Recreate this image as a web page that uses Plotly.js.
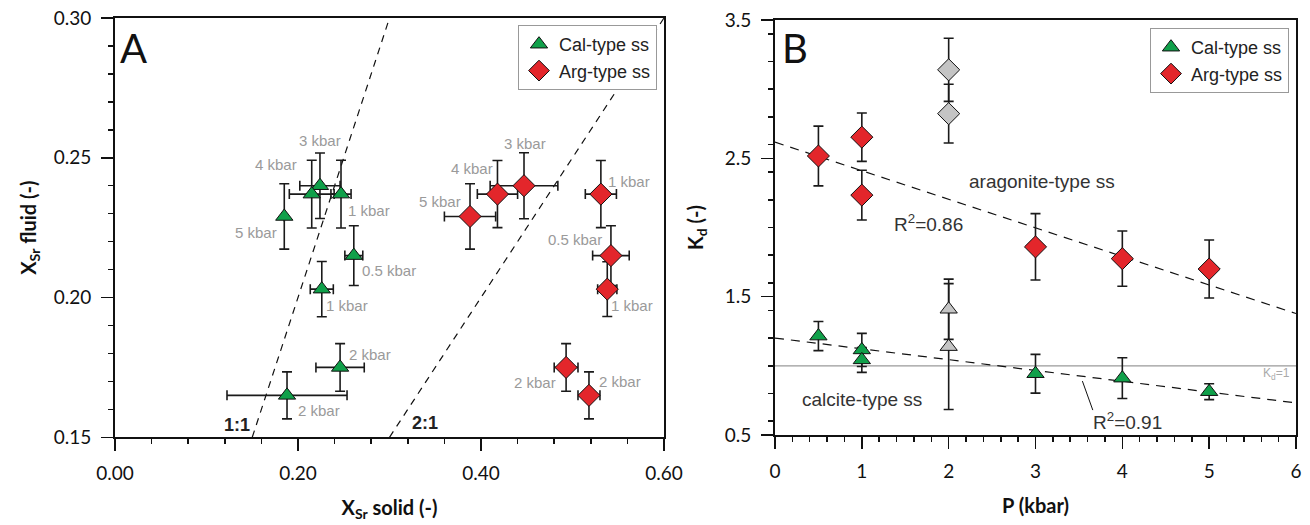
<!DOCTYPE html>
<html>
<head>
<meta charset="utf-8">
<script src="https://cdn.plot.ly/plotly-3.0.1.min.js"></script>
<style>html,body{margin:0;padding:0;background:#fff;}#chart{width:1310px;height:525px;}</style>
</head>
<body>
<div id="chart"></div>
<script>
// ---------- Panel A data: X_Sr solid vs X_Sr fluid ----------
const calXsolid    = [0.224, 0.215, 0.247, 0.185, 0.261, 0.226, 0.246, 0.188];
const calXfluid    = [0.240, 0.237, 0.237, 0.229, 0.215, 0.203, 0.175, 0.165];
const calXsolidErr = [0.022, 0.0245, 0.011, 0.0, 0.0098, 0.0126, 0.0264, 0.0656];
const calXfluidErr = [0.0117, 0.0121, 0.0121, 0.0117, 0.0107, 0.0099, 0.0085, 0.0084];
const calLabels    = ['3 kbar', '4 kbar', '1 kbar', '5 kbar', '0.5 kbar', '1 kbar', '2 kbar', '2 kbar'];

const argXsolid    = [0.447, 0.418, 0.388, 0.531, 0.542, 0.538, 0.493, 0.518];
const argXfluid    = [0.240, 0.237, 0.229, 0.237, 0.215, 0.203, 0.175, 0.165];
const argXsolidErr = [0.037, 0.022, 0.028, 0.017, 0.020, 0.0105, 0.013, 0.012];
const argXfluidErr = [0.0118, 0.012, 0.0117, 0.012, 0.0107, 0.0098, 0.0085, 0.0084];
const argLabels    = ['3 kbar', '4 kbar', '5 kbar', '1 kbar', '0.5 kbar', '1 kbar', '2 kbar', '2 kbar'];

// reference lines (1:1 and 2:1), given by their end values
const ratio11Solid = [0.15, 0.30], ratio11Fluid = [0.15, 0.30];
const ratio21Solid = [0.30, 0.60], ratio21Fluid = [0.15, 0.30];

// ---------- Panel B data: Kd vs P ----------
const argP      = [0.5, 1, 1, 3, 4, 5];
const argKd     = [2.517, 2.653, 2.234, 1.86, 1.775, 1.70];
const argKdErr  = [0.216, 0.175, 0.18, 0.24, 0.20, 0.21];
const argGreyP  = [2, 2];
const argGreyKd = [3.14, 2.823];
const argGreyErr= [0.228, 0.212];

const calP      = [0.5, 1, 1, 3, 4, 5];
const calKd     = [1.215, 1.115, 1.043, 0.943, 0.911, 0.813];
const calKdErr  = [0.105, 0.12, 0.09, 0.14, 0.147, 0.057];
const calGreyP  = [2, 2];
const calGreyKd = [1.409, 1.139];
const calGreyErr= [0.218, 0.455];

const fitP      = [0, 6];
const argFitKd  = [2.617, 1.378];
const calFitKd  = [1.201, 0.732];
const kdOneP    = [0, 6];
const kdOneKd   = [1, 1];

// ---------- styles ----------
const GREEN = '#10a04a', RED = '#e3262b', GREY = '#c4c4c4', LABEL = '#9a9a9a';
const TICKFONT = {family: 'Lato, "Open Sans", sans-serif', size: 19, color: '#111'};
const TITLEFONT = {family: 'Lato, "Open Sans", sans-serif', size: 20, color: '#111', weight: 'bold'};
const ARIAL = '"Liberation Sans", Arial, sans-serif';
const calLabelDx = [0, -36, 28, -28, 35, 25, 30, 32];
const calLabelDy = [45, 30, -16, -16, -15, -16, 13, -15];
const argLabelDx = [1, -25, -30, 28, -36, 25, -31, 31];
const argLabelDy = [42, 26, 15, 13, 16, -16, -15, 14];

function errBar(arr) {
  return {type: 'data', array: arr, visible: true, color: '#1a1a1a', thickness: 1.6, width: 5};
}
const triMarker = c => ({symbol: 'triangle-up', size: 15, color: c, line: {color: '#111', width: 1}});
const diaMarker = c => ({symbol: 'diamond', size: 17, color: c, line: {color: '#111', width: 1}});

const traces = [
  // Panel A lines
  {x: ratio11Solid, y: ratio11Fluid, mode: 'lines', line: {color: '#111', width: 1.2, dash: '7px,6px'},
   xaxis: 'x', yaxis: 'y', showlegend: false, hoverinfo: 'skip'},
  {x: ratio21Solid, y: ratio21Fluid, mode: 'lines', line: {color: '#111', width: 1.2, dash: '7px,6px'},
   xaxis: 'x', yaxis: 'y', showlegend: false, hoverinfo: 'skip'},
  // Panel A points
  {x: calXsolid, y: calXfluid, mode: 'markers', name: 'Cal-type ss',
   error_x: errBar(calXsolidErr), error_y: errBar(calXfluidErr),
   marker: triMarker(GREEN), xaxis: 'x', yaxis: 'y', legend: 'legend'},
  {x: argXsolid, y: argXfluid, mode: 'markers', name: 'Arg-type ss',
   error_x: errBar(argXsolidErr), error_y: errBar(argXfluidErr),
   marker: diaMarker(RED), xaxis: 'x', yaxis: 'y', legend: 'legend'},
  // Panel B lines
  {x: kdOneP, y: kdOneKd, mode: 'lines', line: {color: '#9a9a9a', width: 1.2},
   xaxis: 'x2', yaxis: 'y2', showlegend: false, hoverinfo: 'skip'},
  {x: fitP, y: argFitKd, mode: 'lines', line: {color: '#111', width: 1.2, dash: '9px,7px'},
   xaxis: 'x2', yaxis: 'y2', showlegend: false, hoverinfo: 'skip'},
  {x: fitP, y: calFitKd, mode: 'lines', line: {color: '#111', width: 1.2, dash: '9px,7px'},
   xaxis: 'x2', yaxis: 'y2', showlegend: false, hoverinfo: 'skip'},
  // Panel B points
  {x: argGreyP, y: argGreyKd, mode: 'markers', error_y: errBar(argGreyErr),
   marker: diaMarker(GREY), xaxis: 'x2', yaxis: 'y2', showlegend: false},
  {x: calGreyP, y: calGreyKd, mode: 'markers', error_y: errBar(calGreyErr),
   marker: triMarker(GREY), xaxis: 'x2', yaxis: 'y2', showlegend: false},
  {x: calP, y: calKd, mode: 'markers', name: 'Cal-type ss', error_y: errBar(calKdErr),
   marker: triMarker(GREEN), xaxis: 'x2', yaxis: 'y2', legend: 'legend2'},
  {x: argP, y: argKd, mode: 'markers', name: 'Arg-type ss', error_y: errBar(argKdErr),
   marker: diaMarker(RED), xaxis: 'x2', yaxis: 'y2', legend: 'legend2'}
];

const annotations = [];
calLabels.forEach((t, i) => annotations.push({xref: 'x', yref: 'y', x: calXsolid[i], y: calXfluid[i], text: t,
  showarrow: false, xshift: calLabelDx[i], yshift: calLabelDy[i], font: {family: ARIAL, size: 15, color: LABEL}}));
argLabels.forEach((t, i) => annotations.push({xref: 'x', yref: 'y', x: argXsolid[i], y: argXfluid[i], text: t,
  showarrow: false, xshift: argLabelDx[i], yshift: argLabelDy[i], font: {family: ARIAL, size: 15, color: LABEL}}));

annotations.push(
  {xref: 'x', yref: 'y', x: 0.133, y: 0.1545, text: '<b>1:1</b>', showarrow: false, font: {family: ARIAL, size: 18, color: '#222'}},
  {xref: 'x', yref: 'y', x: 0.339, y: 0.155, text: '<b>2:1</b>', showarrow: false, font: {family: ARIAL, size: 18, color: '#222'}},
  {xref: 'paper', yref: 'paper', x: 118/1310, y: 1 - 22/525, xanchor: 'left', yanchor: 'top', text: 'A', showarrow: false,
   font: {family: 'Lato, sans-serif', size: 40, color: '#111'}},
  {xref: 'paper', yref: 'paper', x: 780/1310, y: 1 - 22/525, xanchor: 'left', yanchor: 'top', text: 'B', showarrow: false,
   font: {family: 'Lato, sans-serif', size: 40, color: '#111'}},
  {xref: 'x2', yref: 'y2', x: 3.08, y: 2.335, text: 'aragonite-type ss', showarrow: false, font: {family: ARIAL, size: 19, color: '#333'}},
  {xref: 'x2', yref: 'y2', x: 1.77, y: 2.03, text: 'R<sup>2</sup>=0.86', showarrow: false, font: {family: ARIAL, size: 19, color: '#333'}},
  {xref: 'x2', yref: 'y2', x: 1.0, y: 0.755, text: 'calcite-type ss', showarrow: false, font: {family: ARIAL, size: 19, color: '#333'}},
  {xref: 'x2', yref: 'y2', x: 4.06, y: 0.60, text: 'R<sup>2</sup>=0.91', showarrow: false, font: {family: ARIAL, size: 19, color: '#333'}},
  {xref: 'x2', yref: 'y2', x: 5.78, y: 0.94, text: 'K<sub>d</sub>=1', showarrow: false, font: {family: ARIAL, size: 12, color: '#aaa'}}
);

const shapes = [
  // leader line from the calcite fit to its R² label
  {type: 'line', xref: 'x2', yref: 'y2', x0: 3.54, y0: 0.89, x1: 3.66, y1: 0.68, line: {color: '#111', width: 1}}
];

const axisCommon = {
  showgrid: false, zeroline: false, showline: true, linecolor: '#111', linewidth: 2, mirror: true,
  ticks: 'outside', ticklen: 12, tickwidth: 1.5, tickcolor: '#111', tickfont: TICKFONT,
  ticklabelstandoff: 6
};

const layout = {
  width: 1310, height: 525,
  margin: {l: 0, r: 0, t: 0, b: 0},
  paper_bgcolor: '#fff', plot_bgcolor: '#fff',
  showlegend: true,
  xaxis: Object.assign({}, axisCommon, {
    domain: [115/1310, 664/1310], range: [0, 0.6], dtick: 0.2, tick0: 0, tickformat: '.2f',
    minor: {dtick: 0.04, ticks: 'outside', ticklen: 5, tickcolor: '#111', tickwidth: 1.5, showgrid: false},
    title: {text: 'X<sub>Sr</sub> solid (-)', font: TITLEFONT, standoff: 18}
  }),
  yaxis: Object.assign({}, axisCommon, {
    domain: [1 - 437.3/525, 1 - 18/525], range: [0.15, 0.30], dtick: 0.05, tick0: 0.15, tickformat: '.2f',
    minor: {dtick: 0.01, ticks: 'outside', ticklen: 5, tickcolor: '#111', tickwidth: 1.5, showgrid: false},
    title: {text: 'X<sub>Sr</sub> fluid (-)', font: TITLEFONT, standoff: 12}
  }),
  xaxis2: Object.assign({}, axisCommon, {
    anchor: 'y2', domain: [775/1310, 1296/1310], range: [0, 6], dtick: 1, tick0: 0,
    minor: {dtick: 0.2, ticks: 'outside', ticklen: 5, tickcolor: '#111', tickwidth: 1.5, showgrid: false},
    title: {text: 'P (kbar)', font: TITLEFONT, standoff: 18}
  }),
  yaxis2: Object.assign({}, axisCommon, {
    anchor: 'x2', domain: [1 - 435/525, 1 - 20/525], range: [0.5, 3.5], dtick: 1, tick0: 0.5, tickformat: '.1f',
    minor: {dtick: 0.2, ticks: 'outside', ticklen: 5, tickcolor: '#111', tickwidth: 1.5, showgrid: false},
    title: {text: 'K<sub>d</sub> (-)', font: TITLEFONT, standoff: 16}
  }),
  legend: {x: 657/1310, y: 1 - 25/525, xanchor: 'right', yanchor: 'top', bgcolor: '#fff',
    bordercolor: '#999', borderwidth: 1, font: {family: ARIAL, size: 18, color: '#222'}, tracegroupgap: 0, itemwidth: 30},
  legend2: {x: 1289/1310, y: 1 - 28/525, xanchor: 'right', yanchor: 'top', bgcolor: '#fff',
    bordercolor: '#999', borderwidth: 1, font: {family: ARIAL, size: 18, color: '#222'}, tracegroupgap: 0, itemwidth: 30},
  shapes: shapes,
  annotations: annotations
};

Plotly.newPlot('chart', traces, layout, {staticPlot: true, displayModeBar: false});
</script>
</body>
</html>
